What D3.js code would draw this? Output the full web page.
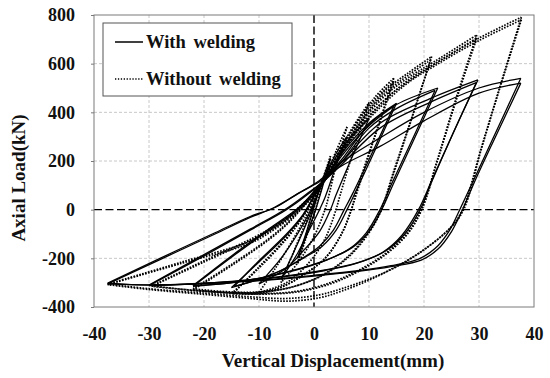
<!DOCTYPE html>
<html lang="en">
<head>
<meta charset="UTF-8">
<title>Axial load - vertical displacement</title>
<script src="https://d3js.org/d3.v7.min.js"></script>
<style>
  body { margin: 0; background: #fff; }
  text { font-family: "Liberation Serif", "Times New Roman", serif; font-weight: bold; fill: #111; }
  .grid-line { stroke: #c8c8c8; stroke-width: 1; stroke-dasharray: 3,2; }
  .zero-line { stroke: #000; stroke-width: 1.4; stroke-dasharray: 8,3.5; }
  .weld { fill: none; stroke: #000; stroke-width: 1.3; }
  .noweld { fill: none; stroke: #000; stroke-width: 1.7; stroke-dasharray: 1.6,1.4; }
</style>
</head>
<body>
<div id="chart"></div>
<script>
// tick values
const xTicks = [-40, -30, -20, -10, 0, 10, 20, 30, 40];
const yTicks = [-400, -200, 0, 200, 400, 600, 800];

// With welding (solid) - [displacement mm, load kN]
const w37a_up = [[-37.5,-305],[-28,-205],[-18,-100],[-11.6,-32],[-7.4,7],[-3,65],[1,120],[5,195],[12,295],[20,400],[30,500],[37.6,540]];
const w37a_dn = [[37.6,540],[33,315],[29,120],[26.5,0],[24.5,-90],[22,-160],[19,-203],[14,-230],[8,-251],[0,-270],[-10,-290],[-20,-302],[-30,-309],[-37.5,-305]];
const w37b_up = [[-37.5,-302],[-28,-200],[-18,-95],[-11.6,-28],[-7,10],[-3,65],[1,115],[5,180],[12,260],[20,365],[30,479],[37.6,520]];
const w37b_dn = [[37.6,520],[33,300],[29.5,130],[27,0],[25,-90],[22.5,-163],[19.5,-207],[14,-234],[8,-254],[0,-273],[-10,-292],[-20,-304],[-30,-310],[-37.5,-302]];
const w30a_up = [[-30,-312],[-20,-190],[-11.6,-84],[-5,0],[-1,65],[1.5,115],[5,195],[12,355],[21,455],[29.8,533]];
const w30a_dn = [[29.8,533],[25,300],[21.5,120],[19.3,0],[16.5,-100],[13,-170],[8,-218],[2,-248],[-5,-272],[-15,-295],[-22,-305],[-30,-312]];
const w30b_up = [[-30,-310],[-20,-185],[-11.6,-80],[-5,5],[-1,70],[1.5,112],[5,185],[12,335],[21,440],[29.5,522]];
const w30b_dn = [[29.5,522],[25,300],[21.5,125],[19,0],[16,-105],[12.5,-175],[7.5,-222],[2,-250],[-5,-274],[-15,-297],[-22,-306],[-30,-310]];
const w22a_up = [[-22,-315],[-15,-195],[-7.4,-71],[-3,0],[0,75],[1.5,112],[5,205],[10,350],[15,432],[22.5,500]];
const w22a_dn = [[22.5,500],[18,280],[14.5,110],[12.3,0],[10,-90],[7,-155],[3,-200],[-2,-238],[-8,-272],[-15,-300],[-22,-315]];
const w22b_up = [[-22,-312],[-15,-190],[-7.4,-66],[-3,5],[0,72],[1.5,110],[5,195],[10,335],[15,415],[22,490]];
const w22b_dn = [[22,490],[17.5,270],[14,100],[12,0],[9.5,-95],[6.5,-160],[2.5,-205],[-2,-240],[-8,-273],[-15,-301],[-22,-312]];
const w15a_up = [[-15,-320],[-10,-215],[-5,-105],[-2,-25],[0,55],[2,125],[5,230],[10,355],[15,437]];
const w15a_dn = [[15,437],[11,240],[7.5,70],[6,0],[4,-85],[1.5,-150],[-2,-200],[-6,-250],[-10,-285],[-15,-320]];
const w15b_up = [[-14.5,-315],[-10,-210],[-5,-100],[-2,-20],[0,55],[2,120],[5,220],[10,345],[14.5,425]];
const w15b_dn = [[14.5,425],[10.5,230],[7,65],[5.5,0],[3.5,-85],[1,-150],[-2.5,-205],[-6.5,-255],[-10.5,-290],[-14.5,-315]];
const w10_up = [[-10,-305],[-6,-200],[-3,-100],[-1,-20],[1,80],[3,180],[6,280],[10,375]];
const w10_dn = [[10,375],[7,220],[4,60],[3,0],[1,-90],[-2,-170],[-5,-240],[-10,-305]];
const w6_up = [[-6,-285],[-4,-190],[-2,-90],[0,20],[2,140],[4,230],[6,300]];
const w6_dn = [[6,300],[4,180],[2,50],[1,0],[-1,-90],[-3,-180],[-6,-285]];
const w3_up = [[-3,-200],[-1.5,-100],[0,10],[1.5,120],[3,210]];
const w3_dn = [[3,210],[1.5,90],[0,-20],[-1.5,-110],[-3,-200]];

// Without welding (dotted)
const d37a_up = [[-37.5,-308],[-24,-220],[-11.6,-138],[-7.4,-84],[-3,-10],[0,60],[3,160],[7,300],[12,430],[17,530],[22,600],[30,705],[37.7,791]];
const d37a_dn = [[37.7,791],[34,520],[30.5,260],[27,0],[24.7,-77],[19.3,-175],[14,-245],[10,-290],[5,-335],[1,-362],[-5,-376],[-11.6,-365],[-20,-348],[-30,-328],[-37.5,-308]];
const d37b_up = [[-37.5,-306],[-24,-215],[-11.6,-130],[-7.4,-78],[-3,-5],[0,62],[3,160],[7,295],[12,420],[17,520],[22,592],[30,695],[37.7,780]];
const d37b_dn = [[37.7,780],[34,515],[30.5,255],[27.2,0],[25,-70],[20,-165],[15,-235],[10,-285],[5,-325],[1,-350],[-5,-365],[-11.6,-358],[-20,-343],[-30,-325],[-37.5,-306]];
const d30a_up = [[-29.5,-315],[-20,-215],[-11,-120],[-6,-55],[-2,20],[1,90],[4,200],[8,340],[13,470],[17,540],[22,610],[29.6,718]];
const d30a_dn = [[29.6,718],[26,470],[22.5,210],[19.5,0],[17,-95],[13,-180],[8,-250],[3,-300],[-3,-335],[-10,-345],[-20,-335],[-29.5,-315]];
const d30b_up = [[-29.5,-313],[-20,-210],[-11,-115],[-6,-50],[-2,25],[1,92],[4,195],[8,330],[13,455],[17,525],[22,600],[29.6,705]];
const d30b_dn = [[29.6,705],[26,460],[22.5,205],[19.6,0],[17,-100],[13,-185],[8,-255],[3,-305],[-3,-338],[-10,-347],[-20,-336],[-29.5,-313]];
const d22a_up = [[-22,-330],[-15,-230],[-8,-120],[-4,-40],[-1,40],[2,120],[5,240],[9,380],[13,490],[17,560],[21.4,629]];
const d22a_dn = [[21.4,629],[18,390],[14.5,150],[12.3,0],[10,-95],[6.5,-190],[2,-265],[-4,-318],[-10,-340],[-16,-340],[-22,-330]];
const d22b_up = [[-22,-325],[-15,-225],[-8,-115],[-4,-35],[-1,45],[2,125],[5,240],[9,375],[13,480],[17,550],[21.2,615]];
const d22b_dn = [[21.2,615],[17.8,380],[14.3,145],[12.2,0],[9.8,-95],[6.3,-190],[1.8,-265],[-4,-318],[-10,-338],[-16,-337],[-22,-325]];
const d15a_up = [[-15,-345],[-10,-240],[-5,-120],[-2,-30],[0,50],[3,170],[7,330],[11,460],[14.5,540]];
const d15a_dn = [[14.5,540],[11,300],[7.5,60],[6.8,0],[5,-100],[2,-200],[-2,-270],[-6,-320],[-10,-345],[-15,-345]];
const d15b_up = [[-14.5,-340],[-10,-235],[-5,-115],[-2,-25],[0,55],[3,170],[7,325],[11,450],[14.5,528]];
const d15b_dn = [[14.5,528],[11,295],[7.8,70],[6.8,0],[5,-100],[2,-200],[-2,-268],[-6,-318],[-10,-340],[-14.5,-340]];
const d10_up = [[-10,-340],[-7,-240],[-4,-130],[-2,-50],[0,40],[3,170],[6,300],[10,440]];
const d10_dn = [[10,440],[7,230],[4.5,40],[4,0],[2,-120],[-1,-220],[-5,-300],[-10,-340]];
const d6_up = [[-6,-300],[-4,-190],[-2,-80],[0,30],[2,130],[4,240],[6,340]];
const d6_dn = [[6,340],[4,180],[2.5,40],[2,0],[0,-110],[-3,-220],[-6,-300]];
const d3_up = [[-3,-220],[-1.5,-110],[0,20],[1.5,120],[3,220]];
const d3_dn = [[3,220],[1.5,100],[0,-20],[-1.5,-120],[-3,-220]];

const weldCurves = [w37a_up, w37a_dn, w37b_up, w37b_dn, w30a_up, w30a_dn, w30b_up, w30b_dn,
  w22a_up, w22a_dn, w22b_up, w22b_dn, w15a_up, w15a_dn, w15b_up, w15b_dn,
  w10_up, w10_dn, w6_up, w6_dn, w3_up, w3_dn];
const noWeldCurves = [d37a_up, d37a_dn, d37b_up, d37b_dn, d30a_up, d30a_dn, d30b_up, d30b_dn,
  d22a_up, d22a_dn, d22b_up, d22b_dn, d15a_up, d15a_dn, d15b_up, d15b_dn,
  d10_up, d10_dn, d6_up, d6_dn, d3_up, d3_dn];

const margin = { top: 15, right: 16, bottom: 71, left: 94 },
      W = 550, H = 378,
      width = W - margin.left - margin.right,
      height = H - margin.top - margin.bottom;

const svg = d3.select("#chart").append("svg")
    .attr("width", W)
    .attr("height", H);
const g = svg.append("g")
    .attr("transform", `translate(${margin.left},${margin.top})`);

const x = d3.scaleLinear().domain([-40, 40]).range([0, width]);
const y = d3.scaleLinear().domain([-400, 800]).range([height, 0]);

// grid
g.selectAll(".vgrid")
  .data(xTicks.filter(d => d > -40 && d < 40 && d !== 0))
  .enter().append("line")
    .attr("class", "grid-line")
    .attr("x1", d => x(d)).attr("x2", d => x(d))
    .attr("y1", 0).attr("y2", height);
g.selectAll(".hgrid")
  .data(yTicks.filter(d => d > -400 && d < 800 && d !== 0))
  .enter().append("line")
    .attr("class", "grid-line")
    .attr("x1", 0).attr("x2", width)
    .attr("y1", d => y(d)).attr("y2", d => y(d));

// zero lines
g.append("line").attr("class", "zero-line")
  .attr("x1", 0).attr("x2", width).attr("y1", y(0)).attr("y2", y(0));
g.append("line").attr("class", "zero-line")
  .attr("x1", x(0)).attr("x2", x(0)).attr("y1", 0).attr("y2", height);

// curves
const line = d3.line()
  .x(d => x(d[0]))
  .y(d => y(d[1]))
  .curve(d3.curveCatmullRom.alpha(0.5));

g.selectAll(".noweld")
  .data(noWeldCurves)
  .enter().append("path")
    .attr("class", "noweld")
    .attr("d", line);
g.selectAll(".weld")
  .data(weldCurves)
  .enter().append("path")
    .attr("class", "weld")
    .attr("d", line);

// frame
g.append("rect")
  .attr("width", width).attr("height", height)
  .attr("fill", "none").attr("stroke", "#7a7a7a").attr("stroke-width", 1);

// axes (plain hyphen for negatives)
const xAxis = g.append("g")
  .attr("transform", `translate(0,${height})`)
  .call(d3.axisBottom(x).tickValues(xTicks).tickFormat(d => String(d)).tickSize(0).tickPadding(20));
const yAxis = g.append("g")
  .call(d3.axisLeft(y).tickValues(yTicks).tickFormat(d => String(d)).tickSize(3).tickSizeOuter(0).tickPadding(16));
[xAxis, yAxis].forEach(a => {
  a.select(".domain").remove();
  a.selectAll(".tick line").attr("stroke", "#7a7a7a");
  a.selectAll("text")
    .style("font-family", '"Liberation Serif", "Times New Roman", serif')
    .style("font-weight", "bold")
    .style("font-size", "18px")
    .attr("fill", "#111");
});

// axis titles
svg.append("text")
  .attr("x", 333)
  .attr("y", 367)
  .attr("text-anchor", "middle")
  .style("font-size", "19px")
  .text("Vertical Displacement(mm)");
svg.append("text")
  .attr("transform", "translate(25,178) rotate(-90)")
  .attr("text-anchor", "middle")
  .style("font-size", "19px")
  .text("Axial Load(kN)");

// legend
const legend = svg.append("g").attr("transform", "translate(103,23)");
legend.append("rect")
  .attr("width", 189).attr("height", 73)
  .attr("fill", "#fff").attr("stroke", "#555").attr("stroke-width", 1);
legend.append("line")
  .attr("x1", 12).attr("x2", 40).attr("y1", 19).attr("y2", 19)
  .attr("stroke", "#000").attr("stroke-width", 1.5);
legend.append("text").attr("x", 43).attr("y", 25)
  .style("font-size", "18.5px").style("word-spacing", "3px").text("With welding");
legend.append("line")
  .attr("x1", 12).attr("x2", 40).attr("y1", 56).attr("y2", 56)
  .attr("stroke", "#000").attr("stroke-width", 1.3).attr("stroke-dasharray", "1.3,1.6");
legend.append("text").attr("x", 43).attr("y", 62)
  .style("font-size", "18.5px").style("word-spacing", "3px").text("Without welding");
</script>
</body>
</html>
